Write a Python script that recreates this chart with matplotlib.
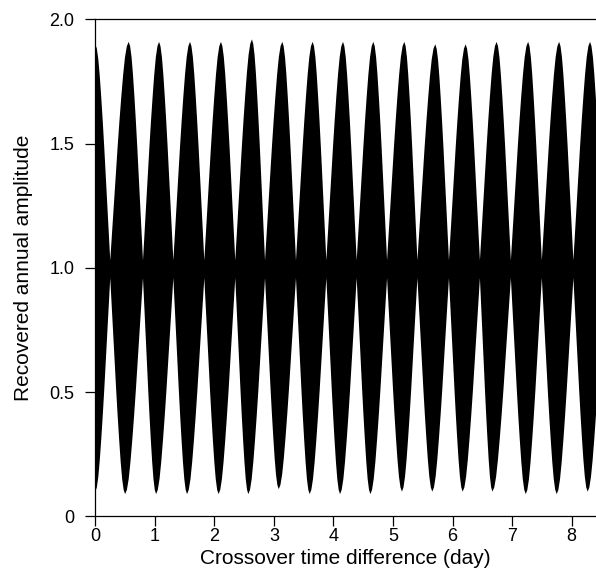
import numpy as np
import matplotlib
matplotlib.use("Agg")
import matplotlib.pyplot as plt

plt.rcParams['font.family'] = ['Liberation Sans', 'DejaVu Sans']

# envelope of the recovered annual amplitude
# nodes where the lobes pinch in to the 1.0 band (day)
node_x = [0.25, 0.80, 1.31, 1.83, 2.35, 2.85, 3.37, 3.88, 4.39,
          4.90, 5.41, 5.94, 6.46, 6.98, 7.50, 8.03, 8.55]
upper_node_y = 1.03
lower_node_y = 0.96

# tops of the lobes
peak_x = [0.0, 0.56, 1.07, 1.59, 2.11, 2.63, 3.14, 3.65, 4.16,
          4.67, 5.19, 5.71, 6.22, 6.74, 7.27, 7.79, 8.31]
peak_y = [1.90, 1.91, 1.91, 1.91, 1.91, 1.92, 1.91, 1.91, 1.91,
          1.91, 1.91, 1.90, 1.90, 1.91, 1.91, 1.91, 1.91]

# bottoms of the lobes
trough_x = [0.0, 0.50, 1.02, 1.54, 2.07, 2.57, 3.08, 3.60, 4.11,
            4.62, 5.15, 5.66, 6.17, 6.67, 7.23, 7.75, 8.27]
trough_y = [0.10, 0.09, 0.09, 0.09, 0.09, 0.09, 0.11, 0.09, 0.09,
            0.09, 0.10, 0.10, 0.10, 0.10, 0.09, 0.09, 0.10]

# shape of one lobe flank, node (0) -> crest (1)
flank_t = [0.0, 0.1, 0.2, 0.3, 0.4, 0.5, 0.6, 0.7, 0.8, 0.9, 1.0]
flank_h = [0.0, 0.13, 0.26, 0.39, 0.52, 0.64, 0.75, 0.85, 0.93, 0.98, 1.0]

x_ticks = [0, 1, 2, 3, 4, 5, 6, 7, 8]
y_ticks = [0, 0.5, 1.0, 1.5, 2.0]
y_ticklabels = ['0', '0.5', '1.0', '1.5', '2.0']


def envelope(ext_x, ext_y, base):
    # walk crest -> node -> crest ... and lay the flank shape on each piece
    t = np.array(flank_t)
    h = np.array(flank_h)
    xs, ys = [], []
    for i in range(len(node_x)):
        xa, ya = ext_x[i], ext_y[i]
        xn = node_x[i]
        # crest down to node
        xs.append(xn - (xn - xa) * t[::-1])
        ys.append(base + (ya - base) * h[::-1])
        if i + 1 < len(ext_x):
            xb, yb = ext_x[i + 1], ext_y[i + 1]
            # node up to next crest
            xs.append(xn + (xb - xn) * t[1:])
            ys.append(base + (yb - base) * h[1:])
    return np.concatenate(xs), np.concatenate(ys)


xu, yu = envelope(peak_x, peak_y, upper_node_y)
xl, yl = envelope(trough_x, trough_y, lower_node_y)

fig = plt.figure(figsize=(5.96, 5.68), dpi=100)
ax = fig.add_axes([0.16, 0.0907, 0.84, 0.8750])

ax.fill(np.r_[xu, xl[::-1]], np.r_[yu, yl[::-1]], color='black', lw=0)

ax.set_xlim(0, 8.41)
ax.set_ylim(0, 2.0)
ax.set_xticks(x_ticks)
ax.set_yticks(y_ticks)
ax.set_yticklabels(y_ticklabels)
ax.spines['right'].set_visible(False)
for s in ['left', 'bottom', 'top']:
    ax.spines[s].set_linewidth(0.9)
ax.tick_params(direction='out', length=7, width=0.9, labelsize=13)
ax.tick_params(axis='x', pad=1.5)
ax.tick_params(axis='y', pad=8)

ax.set_xlabel('Crossover time difference (day)', fontsize=15, labelpad=3)
ax.set_ylabel('Recovered annual amplitude', fontsize=15, labelpad=12)

fig.savefig('out.png', dpi=100)
